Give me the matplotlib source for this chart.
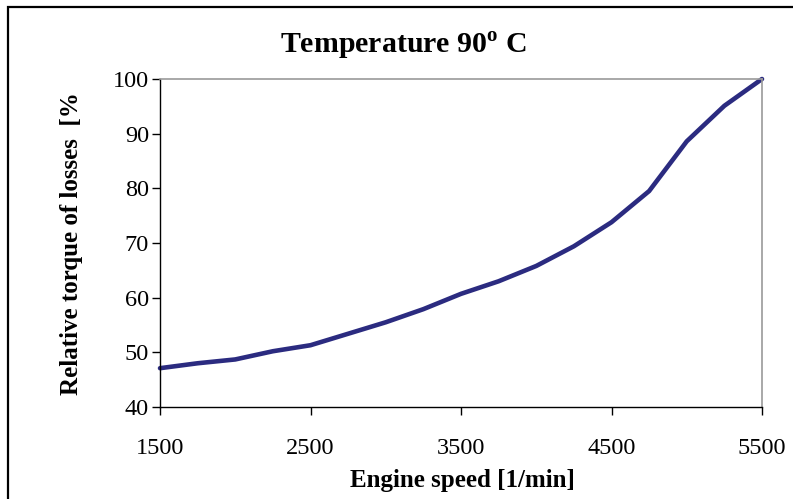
import matplotlib
matplotlib.use("Agg")
import matplotlib.pyplot as plt
from matplotlib.patches import Rectangle

speed = [1500, 1750, 2000, 2250, 2500, 2750, 3000, 3250, 3500, 3750, 4000,
         4250, 4500, 4750, 5000, 5250, 5500]
torque = [47.1, 48.0, 48.7, 50.2, 51.3, 53.4, 55.5, 57.9, 60.7, 63.0, 65.8,
          69.4, 73.8, 79.5, 88.6, 95.1, 100.0]
xticks = [1500, 2500, 3500, 4500, 5500]
yticks = [40, 50, 60, 70, 80, 90, 100]

plt.rcParams['font.family'] = ['Liberation Serif', 'DejaVu Serif']
plt.rcParams['mathtext.fontset'] = 'custom'
plt.rcParams['mathtext.rm'] = 'Liberation Serif:bold'
plt.rcParams['mathtext.bf'] = 'Liberation Serif:bold'

W, H = 793, 499
fig = plt.figure(figsize=(W / 100, H / 100), dpi=100)
fig.patch.set_facecolor('white')

# outer chart border (extends beyond image on right and bottom)
fig.add_artist(Rectangle((8 / W, -0.05), 1.2, 1 - 7 / H + 0.05,
                         transform=fig.transFigure, fill=False,
                         edgecolor='black', linewidth=1.6))

ax = fig.add_axes([160 / W, 1 - 407 / H, (762 - 160) / W, (407 - 79) / H])
ax.plot(speed, torque, color='#2b2b80', linewidth=3.3, solid_capstyle='round',
        solid_joinstyle='round', clip_on=False)
ax.set_xlim(1500, 5500)
ax.set_ylim(40, 100)
ax.set_xticks(xticks)
ax.set_yticks(yticks)
ax.tick_params(axis='both', labelsize=17.5, direction='out', length=6,
               width=1, color='black')
ax.tick_params(axis='x', pad=16.5)
ax.tick_params(axis='y', pad=2)
for s in ['left', 'bottom']:
    ax.spines[s].set_color('black')
    ax.spines[s].set_linewidth(1)
for s in ['top', 'right']:
    ax.spines[s].set_color('#9a9a9a')
    ax.spines[s].set_linewidth(1.2)

fig.text(403 / W, 1 - 46 / H, 'Temperature 90$^{\\mathrm{o}}$ C',
         ha='center', va='center', fontsize=21.5, fontweight='bold')
fig.text(462 / W, 1 - 480 / H, 'Engine speed [1/min]', ha='center',
         va='center', fontsize=18, fontweight='bold')
fig.text(72 / W, 1 - 244 / H, 'Relative torque of losses  [%', ha='center',
         va='center', rotation=90, fontsize=18, fontweight='bold')

fig.savefig('out.png', dpi=100)
